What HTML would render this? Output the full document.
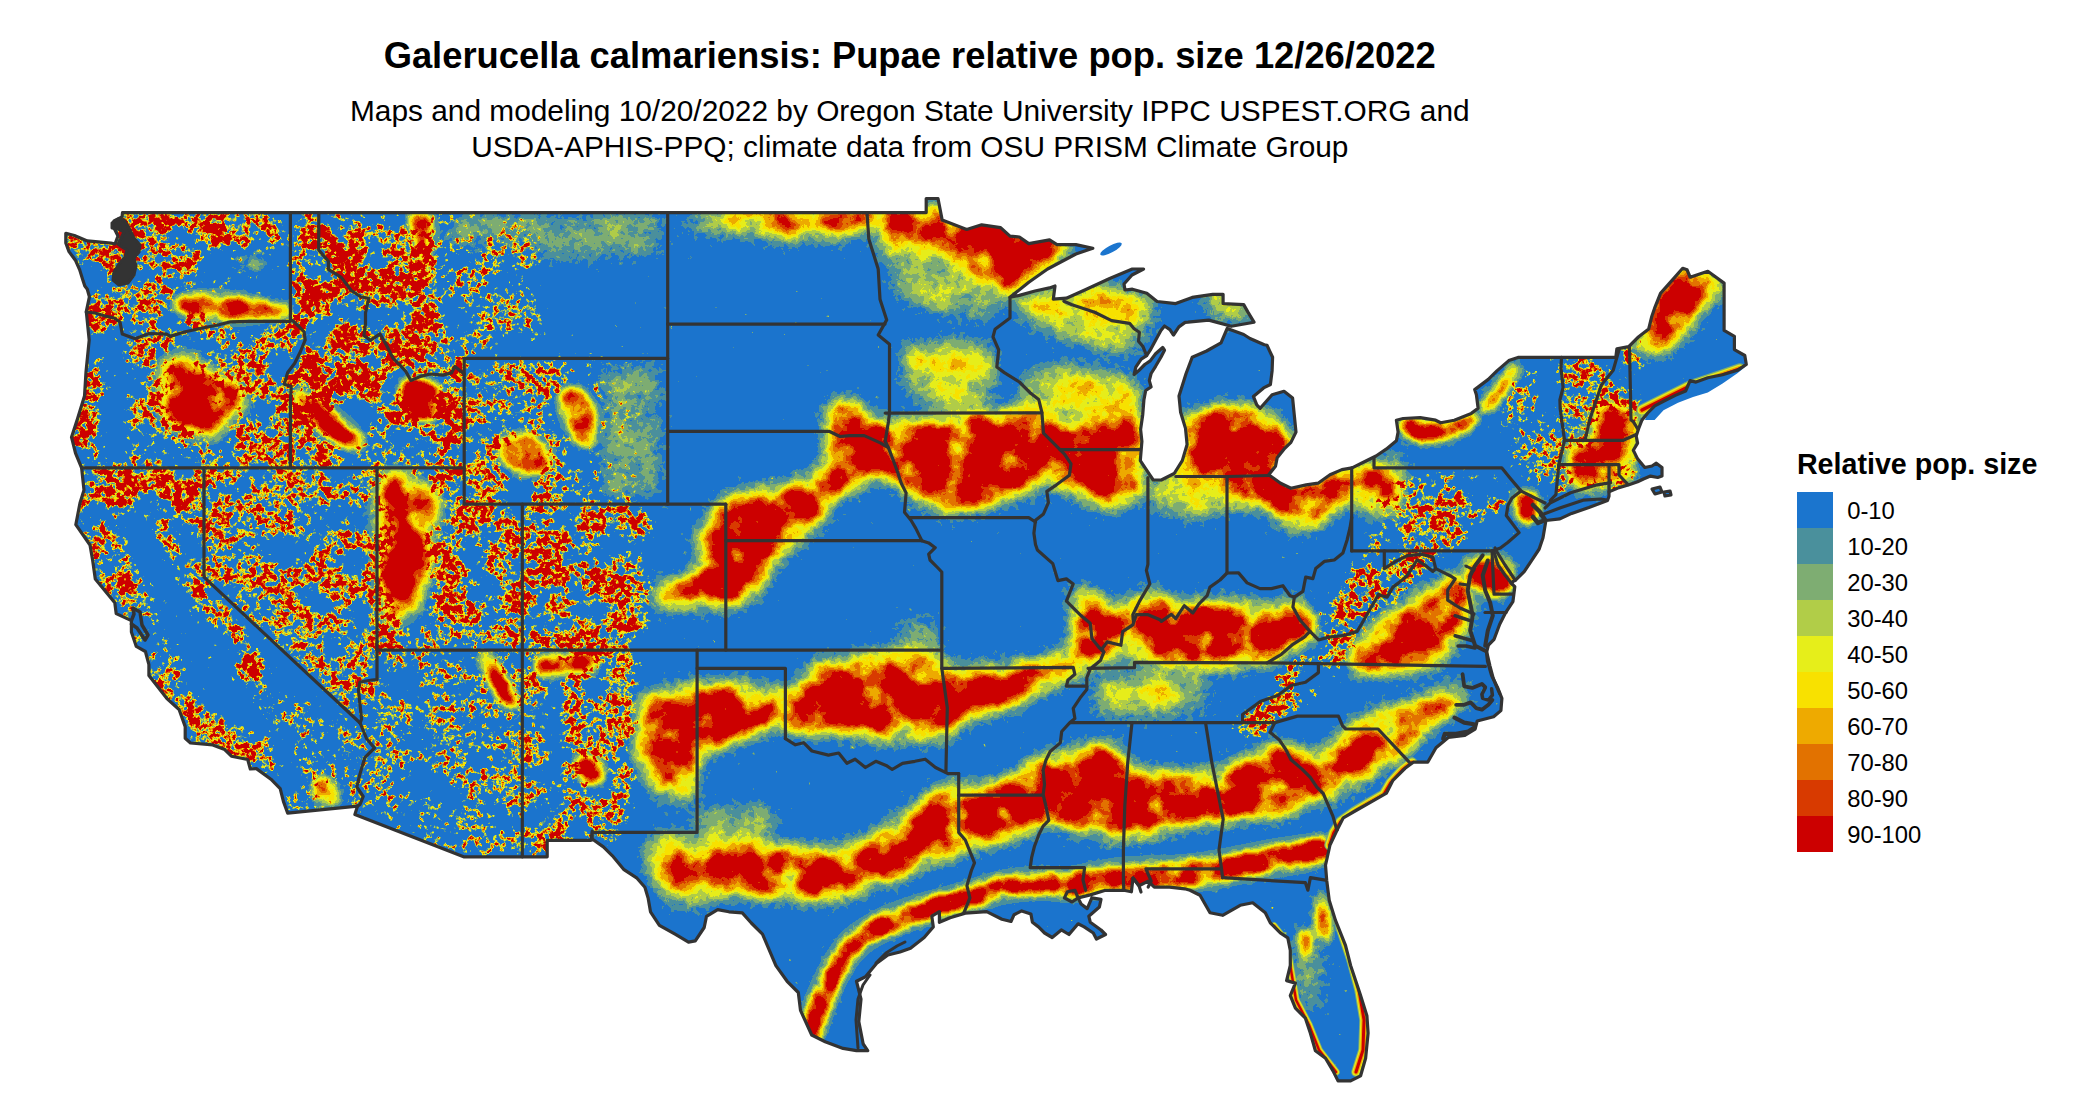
<!DOCTYPE html>
<html><head><meta charset="utf-8"><style>
html,body{margin:0;padding:0;background:#fff;}
body{width:2100px;height:1116px;overflow:hidden;position:relative;font-family:"Liberation Sans",sans-serif;}
svg{position:absolute;left:0;top:0;}
</style></head><body>
<svg width="2100" height="1116" viewBox="0 0 2100 1116">

<defs>
<clipPath id="land"><path d="M65.8,233.3 L74.4,235.5 L87.3,240.9 L98.0,241.9 L110.9,243.0 L115.0,244.0 L118.0,236.0 L113.0,226.0 L114.0,221.0 L122.0,217.0 L122.5,212.6 L926.2,212.6 L926.2,198.5 L938.0,198.5 L942.2,220.1 L966.7,229.5 L981.7,224.8 L1000.6,227.6 L1010.0,236.1 L1019.4,237.0 L1028.8,243.6 L1049.5,239.9 L1057.0,244.6 L1075.9,244.6 L1092.8,248.3 L1075.9,254.0 L1047.6,269.0 L1028.8,282.2 L1010.0,297.3 L1019.4,295.4 L1035.0,291.0 L1049.5,287.9 L1055.0,286.0 L1053.3,299.2 L1066.4,298.2 L1085.3,289.8 L1109.7,278.5 L1132.3,269.0 L1143.6,269.0 L1132.0,275.0 L1124.0,284.0 L1125.0,290.0 L1132.4,289.2 L1146.8,293.3 L1157.1,301.5 L1175.7,303.6 L1192.2,297.4 L1212.8,294.3 L1223.1,294.3 L1223.1,303.6 L1243.7,304.6 L1247.8,311.9 L1254.0,322.2 L1231.3,326.3 L1208.7,320.1 L1188.0,322.2 L1185.1,322.4 L1178.9,326.9 L1173.5,335.0 L1169.9,329.6 L1164.5,326.0 L1160.9,330.5 L1155.6,340.3 L1150.2,350.2 L1146.6,355.6 L1141.2,359.1 L1135.8,367.2 L1134.1,374.4 L1138.5,370.8 L1144.8,364.5 L1150.2,360.9 L1155.6,353.8 L1162.7,347.5 L1164.5,350.2 L1160.9,357.3 L1155.6,366.3 L1151.1,373.5 L1149.3,380.6 L1151.1,386.9 L1145.7,390.5 L1143.9,400.0 L1142.7,415.0 L1140.6,429.4 L1141.9,441.3 L1140.3,460.6 L1146.8,470.3 L1153.2,480.0 L1161.3,480.0 L1174.2,473.5 L1182.3,460.6 L1187.1,444.5 L1185.5,428.4 L1180.6,412.3 L1179.0,396.1 L1186.0,373.7 L1192.2,357.2 L1206.6,351.0 L1221.0,342.8 L1227.2,328.4 L1243.7,334.5 L1250.0,338.5 L1264.3,344.8 L1267.0,345.3 L1272.6,357.2 L1272.1,370.9 L1270.4,384.5 L1263.6,387.9 L1253.4,396.4 L1256.8,404.9 L1260.2,408.3 L1272.1,394.7 L1284.0,391.3 L1292.6,398.1 L1294.3,415.1 L1296.0,432.1 L1290.9,442.4 L1284.0,449.2 L1277.2,457.7 L1275.5,466.2 L1268.7,474.7 L1280.6,483.2 L1290.9,488.3 L1306.2,484.9 L1318.1,483.2 L1330.0,474.7 L1341.9,469.6 L1352.1,467.9 L1362.4,462.8 L1376.0,456.0 L1386.2,449.2 L1396.4,440.7 L1398.1,432.1 L1396.4,420.2 L1403.2,418.5 L1420.2,417.7 L1435.6,420.2 L1440.7,422.8 L1454.3,420.2 L1471.3,413.4 L1478.1,408.3 L1476.4,394.7 L1474.7,389.6 L1488.3,379.4 L1496.9,370.9 L1508.8,360.6 L1518.0,357.4 L1615.8,357.4 L1616.9,348.8 L1628.7,346.7 L1638.4,337.0 L1648.7,328.9 L1651.6,317.1 L1654.6,308.2 L1660.5,293.4 L1682.7,268.3 L1687.1,269.8 L1690.1,277.2 L1707.8,271.3 L1724.1,283.1 L1724.1,330.4 L1734.4,336.3 L1734.4,349.6 L1744.8,355.5 L1746.3,364.4 L1737.4,370.3 L1722.6,374.7 L1707.8,377.7 L1696.0,382.1 L1690.1,380.6 L1685.6,391.0 L1675.3,395.4 L1663.5,401.3 L1654.8,405.8 L1647.7,413.0 L1641.9,420.2 L1639.1,427.3 L1636.2,436.0 L1637.6,443.1 L1633.3,450.3 L1637.6,458.9 L1644.8,467.5 L1652.0,466.0 L1656.3,463.2 L1662.0,467.5 L1662.0,476.1 L1657.7,477.5 L1650.5,476.1 L1643.4,479.0 L1637.6,481.8 L1629.0,484.7 L1619.0,487.6 L1609.0,491.9 L1609.0,496.2 L1607.5,500.5 L1588.9,507.6 L1571.7,513.4 L1559.9,518.9 L1545.9,520.5 L1544.9,526.4 L1543.0,537.7 L1539.2,549.0 L1531.7,560.3 L1524.2,571.6 L1516.6,579.1 L1511.0,582.9 L1514.8,586.7 L1512.9,601.7 L1505.4,613.0 L1499.7,624.3 L1494.1,639.3 L1488.4,645.0 L1486.5,652.5 L1487.5,661.2 L1491.6,675.6 L1497.8,688.0 L1501.9,698.3 L1500.9,710.6 L1493.6,716.8 L1477.2,721.0 L1475.1,729.2 L1464.8,735.4 L1448.3,737.4 L1436.0,747.7 L1427.7,762.2 L1413.3,762.2 L1405.1,768.3 L1392.7,780.7 L1386.5,793.1 L1372.1,801.3 L1357.7,809.5 L1343.3,817.8 L1337.1,830.1 L1330.0,845.0 L1325.5,865.2 L1326.7,880.2 L1329.2,900.3 L1335.5,920.4 L1345.5,945.4 L1350.6,965.5 L1360.6,995.6 L1366.9,1015.7 L1368.1,1033.2 L1365.6,1058.3 L1360.6,1075.9 L1350.6,1080.9 L1338.0,1080.9 L1333.0,1070.9 L1325.5,1058.3 L1315.4,1050.8 L1310.4,1033.2 L1305.4,1018.2 L1295.4,1008.2 L1290.3,995.6 L1295.4,983.1 L1286.6,980.6 L1290.3,965.5 L1290.3,950.5 L1287.8,937.9 L1280.3,932.9 L1270.3,922.9 L1265.3,912.8 L1252.7,902.8 L1240.2,905.3 L1222.6,915.3 L1210.0,912.8 L1200.0,895.3 L1190.0,890.2 L1184.8,888.8 L1169.5,887.2 L1154.3,887.2 L1148.2,881.1 L1139.0,885.7 L1133.0,878.0 L1131.4,891.8 L1123.8,890.3 L1105.5,890.3 L1090.3,894.9 L1078.1,897.9 L1081.1,904.0 L1087.2,908.6 L1091.8,897.9 L1101.0,899.4 L1099.4,907.0 L1088.8,916.2 L1090.3,922.3 L1101.0,930.0 L1105.5,934.5 L1096.4,939.0 L1093.3,933.0 L1084.2,926.9 L1078.1,923.8 L1069.0,934.5 L1061.3,929.9 L1052.2,937.5 L1044.6,933.0 L1038.5,926.9 L1032.4,922.3 L1030.9,913.9 L1021.7,910.9 L1014.1,914.7 L1011.0,921.5 L1001.9,919.2 L986.7,911.6 L965.3,913.1 L950.1,917.7 L939.4,922.3 L939.4,911.6 L931.8,916.2 L933.3,926.9 L924.2,937.5 L910.5,948.2 L900.0,952.0 L887.9,955.0 L876.7,963.3 L865.5,976.8 L856.5,981.3 L861.0,999.2 L858.8,1021.6 L863.2,1044.0 L867.7,1050.7 L856.5,1050.7 L843.1,1048.4 L825.2,1041.7 L811.7,1035.0 L800.5,1010.4 L798.3,992.5 L787.1,981.3 L775.9,965.6 L769.2,949.9 L762.5,934.2 L751.3,923.0 L742.3,912.9 L728.9,911.8 L717.7,909.6 L706.5,916.3 L704.2,927.5 L695.3,940.9 L688.5,942.1 L675.1,934.2 L659.4,925.3 L650.5,911.8 L648.2,898.4 L644.9,887.2 L637.0,878.2 L623.6,869.3 L612.4,855.8 L603.4,846.9 L592.2,839.0 L592.2,831.2 L591.0,840.4 L547.2,840.4 L547.2,856.8 L463.6,856.8 L354.9,814.5 L357.5,806.1 L287.7,813.1 L283.4,801.4 L280.2,788.6 L270.9,779.2 L256.4,768.6 L250.3,769.0 L247.7,759.5 L231.4,756.2 L224.7,749.6 L212.8,744.9 L190.5,743.0 L185.2,738.3 L185.2,726.6 L179.1,709.5 L166.9,698.6 L148.9,675.6 L148.9,664.6 L145.4,651.5 L136.3,646.4 L131.4,631.9 L131.4,620.6 L116.2,613.6 L114.8,602.7 L95.3,579.0 L92.6,560.0 L90.0,545.0 L75.8,524.7 L80.0,503.0 L84.0,490.0 L81.6,467.8 L75.5,453.2 L71.5,437.2 L77.6,418.6 L84.5,396.0 L86.0,371.9 L89.2,340.2 L86.3,311.7 L89.4,296.8 L87.3,289.2 L84.8,286.0 L83.0,280.6 L79.7,269.9 L75.4,260.2 L69.0,251.6 L65.8,243.0Z"/></clipPath>
<filter id="F" x="0" y="0" width="2100" height="1116" filterUnits="userSpaceOnUse" color-interpolation-filters="sRGB">
<feColorMatrix in="SourceGraphic" type="matrix" values="1 0 0 0 0  1 0 0 0 0  1 0 0 0 0  0 0 0 0 1" result="rch"/>
<feColorMatrix in="SourceGraphic" type="matrix" values="0 1 0 0 0  0 1 0 0 0  0 1 0 0 0  0 0 0 0 1" result="gch"/>
<feColorMatrix in="SourceGraphic" type="matrix" values="0 0 1 0 0  0 0 1 0 0  0 0 1 0 0  0 0 0 0 1" result="bch"/>
<feMorphology in="rch" operator="erode" radius="4" result="er1"/>
<feGaussianBlur in="er1" stdDeviation="10" result="bl1"/>
<feMorphology in="bch" operator="erode" radius="2" result="er2"/>
<feGaussianBlur in="er2" stdDeviation="5.5" result="bl2"/>
<feBlend in="bl1" in2="bl2" mode="lighten" result="band"/>
<feGaussianBlur in="gch" stdDeviation="6" result="dens"/>
<feTurbulence type="fractalNoise" baseFrequency="0.16" numOctaves="3" seed="7" result="tb"/>
<feColorMatrix in="tb" type="matrix" values="1 0 0 0 0  1 0 0 0 0  1 0 0 0 0  0 0 0 0 1" result="tn"/>
<feTurbulence type="fractalNoise" baseFrequency="0.035" numOctaves="2" seed="3" result="tb2"/>
<feColorMatrix in="tb2" type="matrix" values="1 0 0 0 0  1 0 0 0 0  1 0 0 0 0  0 0 0 0 1" result="tn2"/>
<feTurbulence type="fractalNoise" baseFrequency="0.03" numOctaves="2" seed="11" result="tb3"/>
<feColorMatrix in="tb3" type="matrix" values="1 0 0 0 0  1 0 0 0 0  1 0 0 0 0  0 0 0 0 1" result="tn3"/>
<feTurbulence type="fractalNoise" baseFrequency="0.022" numOctaves="4" seed="5" result="tb4"/>
<feColorMatrix in="tb4" type="matrix" values="1 0 0 0 0  1 0 0 0 0  1 0 0 0 0  0 0 0 0 1" result="tn4"/>
<feComponentTransfer in="tn4" result="ct"><feFuncR type="table" tableValues="0 0.35 1 0.35 0 0.35 1 0.35 0 0.35 1 0.35 0 0.35 1 0.35 0 0.35 1 0.35 0 0.35 1 0.35 0 0.35 1 0.35 0 0.35 1 0.35 0 0.35 1 0.35 0 0.35 1 0.35 0 0.35 1 0.35 0 0.35 1 0.35 0 0.35 1 0.35 0 0.35 1 0.35 0 0.35 1 0.35 0 0.35 1 0.35 0 0.35 1 0.35 0 0.35 1 0.35 0 0.35 1 0.35 0 0.35 1 0.35 0 0.35 1 0.35 0 0.35 1 0.35 0 0.35"/><feFuncG type="table" tableValues="0 0.35 1 0.35 0 0.35 1 0.35 0 0.35 1 0.35 0 0.35 1 0.35 0 0.35 1 0.35 0 0.35 1 0.35 0 0.35 1 0.35 0 0.35 1 0.35 0 0.35 1 0.35 0 0.35 1 0.35 0 0.35 1 0.35 0 0.35 1 0.35 0 0.35 1 0.35 0 0.35 1 0.35 0 0.35 1 0.35 0 0.35 1 0.35 0 0.35 1 0.35 0 0.35 1 0.35 0 0.35 1 0.35 0 0.35 1 0.35 0 0.35 1 0.35 0 0.35 1 0.35 0 0.35"/><feFuncB type="table" tableValues="0 0.35 1 0.35 0 0.35 1 0.35 0 0.35 1 0.35 0 0.35 1 0.35 0 0.35 1 0.35 0 0.35 1 0.35 0 0.35 1 0.35 0 0.35 1 0.35 0 0.35 1 0.35 0 0.35 1 0.35 0 0.35 1 0.35 0 0.35 1 0.35 0 0.35 1 0.35 0 0.35 1 0.35 0 0.35 1 0.35 0 0.35 1 0.35 0 0.35 1 0.35 0 0.35 1 0.35 0 0.35 1 0.35 0 0.35 1 0.35 0 0.35 1 0.35 0 0.35 1 0.35 0 0.35"/></feComponentTransfer>
<feComponentTransfer in="tn3" result="m"><feFuncR type="linear" slope="2.6" intercept="-0.55"/><feFuncG type="linear" slope="2.6" intercept="-0.55"/><feFuncB type="linear" slope="2.6" intercept="-0.55"/></feComponentTransfer>
<feComposite in="m" in2="dens" operator="arithmetic" k1="1" k2="0" k3="0" k4="0" result="dm"/>
<feComposite in="ct" in2="dm" operator="arithmetic" k1="0.0" k2="0" k3="0" k4="0" result="cf"/>
<feComposite in="tn" in2="dm" operator="arithmetic" k1="0" k2="4.0" k3="2.45" k4="-3.25" result="nf"/>
<feComponentTransfer in="dm" result="base"><feFuncR type="linear" slope="0.1"/><feFuncG type="linear" slope="0.1"/><feFuncB type="linear" slope="0.1"/></feComponentTransfer>
<feComposite in="tn2" in2="band" operator="arithmetic" k1="1.8" k2="0" k3="0.2" k4="0" result="bandm"/>
<feComposite in="tn" in2="bandm" operator="arithmetic" k1="0" k2="0.3" k3="1" k4="-0.15" result="bandn"/>
<feBlend in="nf" in2="bandn" mode="lighten" result="f1"/>
<feBlend in="cf" in2="f1" mode="lighten" result="f2"/>
<feBlend in="base" in2="f2" mode="lighten" result="f3"/>
<feGaussianBlur in="band" stdDeviation="10" result="hb"/>
<feComponentTransfer in="hb" result="halo"><feFuncR type="linear" slope="0.42"/><feFuncG type="linear" slope="0.42"/><feFuncB type="linear" slope="0.42"/></feComponentTransfer>
<feBlend in="halo" in2="f3" mode="lighten" result="field"/>
<feComponentTransfer in="field">
<feFuncR type="discrete" tableValues="0.1059 0.2902 0.4941 0.6941 0.9020 0.9725 0.9333 0.8863 0.8471 0.8000"/>
<feFuncG type="discrete" tableValues="0.4588 0.5647 0.6784 0.8039 0.9333 0.8824 0.6667 0.4471 0.2275 0.0000"/>
<feFuncB type="discrete" tableValues="0.8078 0.6118 0.4471 0.2824 0.1020 0.0000 0.0000 0.0000 0.0000 0.0000"/>
<feFuncA type="table" tableValues="1 1"/>
</feComponentTransfer>
</filter>
</defs>
<path d="M65.8,233.3 L74.4,235.5 L87.3,240.9 L98.0,241.9 L110.9,243.0 L115.0,244.0 L118.0,236.0 L113.0,226.0 L114.0,221.0 L122.0,217.0 L122.5,212.6 L926.2,212.6 L926.2,198.5 L938.0,198.5 L942.2,220.1 L966.7,229.5 L981.7,224.8 L1000.6,227.6 L1010.0,236.1 L1019.4,237.0 L1028.8,243.6 L1049.5,239.9 L1057.0,244.6 L1075.9,244.6 L1092.8,248.3 L1075.9,254.0 L1047.6,269.0 L1028.8,282.2 L1010.0,297.3 L1019.4,295.4 L1035.0,291.0 L1049.5,287.9 L1055.0,286.0 L1053.3,299.2 L1066.4,298.2 L1085.3,289.8 L1109.7,278.5 L1132.3,269.0 L1143.6,269.0 L1132.0,275.0 L1124.0,284.0 L1125.0,290.0 L1132.4,289.2 L1146.8,293.3 L1157.1,301.5 L1175.7,303.6 L1192.2,297.4 L1212.8,294.3 L1223.1,294.3 L1223.1,303.6 L1243.7,304.6 L1247.8,311.9 L1254.0,322.2 L1231.3,326.3 L1208.7,320.1 L1188.0,322.2 L1185.1,322.4 L1178.9,326.9 L1173.5,335.0 L1169.9,329.6 L1164.5,326.0 L1160.9,330.5 L1155.6,340.3 L1150.2,350.2 L1146.6,355.6 L1141.2,359.1 L1135.8,367.2 L1134.1,374.4 L1138.5,370.8 L1144.8,364.5 L1150.2,360.9 L1155.6,353.8 L1162.7,347.5 L1164.5,350.2 L1160.9,357.3 L1155.6,366.3 L1151.1,373.5 L1149.3,380.6 L1151.1,386.9 L1145.7,390.5 L1143.9,400.0 L1142.7,415.0 L1140.6,429.4 L1141.9,441.3 L1140.3,460.6 L1146.8,470.3 L1153.2,480.0 L1161.3,480.0 L1174.2,473.5 L1182.3,460.6 L1187.1,444.5 L1185.5,428.4 L1180.6,412.3 L1179.0,396.1 L1186.0,373.7 L1192.2,357.2 L1206.6,351.0 L1221.0,342.8 L1227.2,328.4 L1243.7,334.5 L1250.0,338.5 L1264.3,344.8 L1267.0,345.3 L1272.6,357.2 L1272.1,370.9 L1270.4,384.5 L1263.6,387.9 L1253.4,396.4 L1256.8,404.9 L1260.2,408.3 L1272.1,394.7 L1284.0,391.3 L1292.6,398.1 L1294.3,415.1 L1296.0,432.1 L1290.9,442.4 L1284.0,449.2 L1277.2,457.7 L1275.5,466.2 L1268.7,474.7 L1280.6,483.2 L1290.9,488.3 L1306.2,484.9 L1318.1,483.2 L1330.0,474.7 L1341.9,469.6 L1352.1,467.9 L1362.4,462.8 L1376.0,456.0 L1386.2,449.2 L1396.4,440.7 L1398.1,432.1 L1396.4,420.2 L1403.2,418.5 L1420.2,417.7 L1435.6,420.2 L1440.7,422.8 L1454.3,420.2 L1471.3,413.4 L1478.1,408.3 L1476.4,394.7 L1474.7,389.6 L1488.3,379.4 L1496.9,370.9 L1508.8,360.6 L1518.0,357.4 L1615.8,357.4 L1616.9,348.8 L1628.7,346.7 L1638.4,337.0 L1648.7,328.9 L1651.6,317.1 L1654.6,308.2 L1660.5,293.4 L1682.7,268.3 L1687.1,269.8 L1690.1,277.2 L1707.8,271.3 L1724.1,283.1 L1724.1,330.4 L1734.4,336.3 L1734.4,349.6 L1744.8,355.5 L1746.3,364.4 L1737.4,370.3 L1722.6,374.7 L1707.8,377.7 L1696.0,382.1 L1690.1,380.6 L1685.6,391.0 L1675.3,395.4 L1663.5,401.3 L1654.8,405.8 L1647.7,413.0 L1641.9,420.2 L1639.1,427.3 L1636.2,436.0 L1637.6,443.1 L1633.3,450.3 L1637.6,458.9 L1644.8,467.5 L1652.0,466.0 L1656.3,463.2 L1662.0,467.5 L1662.0,476.1 L1657.7,477.5 L1650.5,476.1 L1643.4,479.0 L1637.6,481.8 L1629.0,484.7 L1619.0,487.6 L1609.0,491.9 L1609.0,496.2 L1607.5,500.5 L1588.9,507.6 L1571.7,513.4 L1559.9,518.9 L1545.9,520.5 L1544.9,526.4 L1543.0,537.7 L1539.2,549.0 L1531.7,560.3 L1524.2,571.6 L1516.6,579.1 L1511.0,582.9 L1514.8,586.7 L1512.9,601.7 L1505.4,613.0 L1499.7,624.3 L1494.1,639.3 L1488.4,645.0 L1486.5,652.5 L1487.5,661.2 L1491.6,675.6 L1497.8,688.0 L1501.9,698.3 L1500.9,710.6 L1493.6,716.8 L1477.2,721.0 L1475.1,729.2 L1464.8,735.4 L1448.3,737.4 L1436.0,747.7 L1427.7,762.2 L1413.3,762.2 L1405.1,768.3 L1392.7,780.7 L1386.5,793.1 L1372.1,801.3 L1357.7,809.5 L1343.3,817.8 L1337.1,830.1 L1330.0,845.0 L1325.5,865.2 L1326.7,880.2 L1329.2,900.3 L1335.5,920.4 L1345.5,945.4 L1350.6,965.5 L1360.6,995.6 L1366.9,1015.7 L1368.1,1033.2 L1365.6,1058.3 L1360.6,1075.9 L1350.6,1080.9 L1338.0,1080.9 L1333.0,1070.9 L1325.5,1058.3 L1315.4,1050.8 L1310.4,1033.2 L1305.4,1018.2 L1295.4,1008.2 L1290.3,995.6 L1295.4,983.1 L1286.6,980.6 L1290.3,965.5 L1290.3,950.5 L1287.8,937.9 L1280.3,932.9 L1270.3,922.9 L1265.3,912.8 L1252.7,902.8 L1240.2,905.3 L1222.6,915.3 L1210.0,912.8 L1200.0,895.3 L1190.0,890.2 L1184.8,888.8 L1169.5,887.2 L1154.3,887.2 L1148.2,881.1 L1139.0,885.7 L1133.0,878.0 L1131.4,891.8 L1123.8,890.3 L1105.5,890.3 L1090.3,894.9 L1078.1,897.9 L1081.1,904.0 L1087.2,908.6 L1091.8,897.9 L1101.0,899.4 L1099.4,907.0 L1088.8,916.2 L1090.3,922.3 L1101.0,930.0 L1105.5,934.5 L1096.4,939.0 L1093.3,933.0 L1084.2,926.9 L1078.1,923.8 L1069.0,934.5 L1061.3,929.9 L1052.2,937.5 L1044.6,933.0 L1038.5,926.9 L1032.4,922.3 L1030.9,913.9 L1021.7,910.9 L1014.1,914.7 L1011.0,921.5 L1001.9,919.2 L986.7,911.6 L965.3,913.1 L950.1,917.7 L939.4,922.3 L939.4,911.6 L931.8,916.2 L933.3,926.9 L924.2,937.5 L910.5,948.2 L900.0,952.0 L887.9,955.0 L876.7,963.3 L865.5,976.8 L856.5,981.3 L861.0,999.2 L858.8,1021.6 L863.2,1044.0 L867.7,1050.7 L856.5,1050.7 L843.1,1048.4 L825.2,1041.7 L811.7,1035.0 L800.5,1010.4 L798.3,992.5 L787.1,981.3 L775.9,965.6 L769.2,949.9 L762.5,934.2 L751.3,923.0 L742.3,912.9 L728.9,911.8 L717.7,909.6 L706.5,916.3 L704.2,927.5 L695.3,940.9 L688.5,942.1 L675.1,934.2 L659.4,925.3 L650.5,911.8 L648.2,898.4 L644.9,887.2 L637.0,878.2 L623.6,869.3 L612.4,855.8 L603.4,846.9 L592.2,839.0 L592.2,831.2 L591.0,840.4 L547.2,840.4 L547.2,856.8 L463.6,856.8 L354.9,814.5 L357.5,806.1 L287.7,813.1 L283.4,801.4 L280.2,788.6 L270.9,779.2 L256.4,768.6 L250.3,769.0 L247.7,759.5 L231.4,756.2 L224.7,749.6 L212.8,744.9 L190.5,743.0 L185.2,738.3 L185.2,726.6 L179.1,709.5 L166.9,698.6 L148.9,675.6 L148.9,664.6 L145.4,651.5 L136.3,646.4 L131.4,631.9 L131.4,620.6 L116.2,613.6 L114.8,602.7 L95.3,579.0 L92.6,560.0 L90.0,545.0 L75.8,524.7 L80.0,503.0 L84.0,490.0 L81.6,467.8 L75.5,453.2 L71.5,437.2 L77.6,418.6 L84.5,396.0 L86.0,371.9 L89.2,340.2 L86.3,311.7 L89.4,296.8 L87.3,289.2 L84.8,286.0 L83.0,280.6 L79.7,269.9 L75.4,260.2 L69.0,251.6 L65.8,243.0Z" fill="#1B75CE"/>
<g clip-path="url(#land)"><g filter="url(#F)" style="isolation:isolate">
<rect x="0" y="0" width="2100" height="1116" fill="#000"/>
<g><path d="M645.9,586.0 L669.6,583.0 L693.2,574.1 L699.2,559.3 L696.2,535.7 L708.0,512.0 L725.8,494.2 L758.3,491.3 L782.0,485.4 L805.6,476.5 L823.4,467.6 L829.3,446.9 L823.4,423.2 L832.3,399.6 L847.1,393.7 L864.8,405.5 L876.6,420.3 L891.4,414.4 L906.2,420.3 L935.8,417.3 L965.4,414.4 L1000.0,411.4 L1010.0,411.0 L1010.0,500.0 L1000.0,502.0 L965.4,512.0 L935.8,512.0 L915.1,500.2 L900.3,488.3 L891.4,476.5 L876.6,482.4 L858.9,485.4 L841.1,494.2 L829.3,512.0 L817.5,529.7 L799.7,541.6 L779.0,559.3 L764.2,583.0 L752.4,600.7 L728.7,606.6 L699.2,606.6 L669.6,606.6 L648.9,603.7Z" fill="rgb(255,0,0)"/><path d="M1005.0,411.0 L1030.0,405.0 L1060.0,400.0 L1090.0,405.0 L1120.0,410.0 L1145.0,415.0 L1145.0,490.0 L1129.0,505.8 L1112.9,509.0 L1096.8,509.0 L1080.6,501.0 L1064.5,489.7 L1048.4,484.8 L1032.3,492.9 L1016.1,498.0 L1005.0,500.0Z" fill="rgb(235,0,0)"/><path d="M1020.0,373.0 L1060.0,362.0 L1100.0,368.0 L1143.0,378.0 L1143.0,420.0 L1020.0,420.0Z" fill="rgb(115,0,0)"/><path d="M1180.0,417.0 L1208.0,409.0 L1237.0,403.0 L1266.0,409.0 L1283.0,423.0 L1296.0,440.0 L1290.0,470.0 L1268.0,476.0 L1226.0,476.0 L1180.0,476.0 L1175.0,450.0Z" fill="rgb(242,0,0)"/><path d="M1148.0,476.0 L1226.0,476.0 L1226.0,519.0 L1190.0,520.0 L1148.0,505.0Z" fill="rgb(128,0,0)"/><path d="M1226.0,473.0 L1271.0,468.0 L1300.0,480.0 L1330.0,470.0 L1352.0,468.0 L1352.0,500.0 L1329.0,517.6 L1312.0,528.0 L1285.0,529.0 L1271.0,510.0 L1250.0,505.0 L1226.0,505.0Z" fill="rgb(255,0,0)"/><path d="M1352.0,468.0 L1380.0,458.0 L1400.0,450.0 L1403.0,490.0 L1400.7,511.8 L1392.0,523.0 L1375.0,515.0 L1352.0,500.0Z" fill="rgb(230,0,0)"/><path d="M697.3,683.0 L726.0,683.0 L754.6,685.9 L789.0,691.6 L812.0,665.8 L840.6,657.2 L869.3,654.3 L898.0,651.5 L926.6,651.5 L943.8,657.2 L960.0,669.7 L990.5,666.6 L1020.9,663.6 L1051.4,657.5 L1066.6,648.3 L1075.7,630.0 L1069.7,596.6 L1075.7,581.3 L1087.9,587.4 L1106.2,605.7 L1124.5,602.6 L1142.7,596.6 L1158.0,590.5 L1179.3,602.6 L1203.7,599.6 L1234.1,602.6 L1264.6,605.7 L1295.0,599.6 L1310.3,608.7 L1320.0,620.0 L1320.0,639.2 L1295.0,651.4 L1264.6,663.6 L1234.1,668.0 L1200.0,668.0 L1173.2,665.0 L1158.0,663.6 L1142.7,657.5 L1118.4,654.4 L1100.1,660.5 L1081.8,672.7 L1051.4,687.9 L1020.9,703.2 L990.5,715.3 L960.0,721.4 L943.8,743.2 L912.3,737.4 L883.6,743.2 L855.0,734.6 L826.3,731.7 L797.6,731.7 L777.6,726.0 L754.6,734.6 L734.6,746.0 L714.5,752.0 L697.3,756.0Z" fill="rgb(255,0,0)"/><path d="M636.0,700.0 L660.0,690.0 L697.0,683.0 L697.0,790.0 L685.0,805.0 L660.0,800.0 L645.0,780.0 L636.0,760.0Z" fill="rgb(199,0,0)"/><path d="M644.0,700.6 L651.0,745.6 L651.1,746.0 L651.3,746.4 L651.4,746.8 L651.6,747.1 L651.9,747.5 L652.1,747.8 L652.4,748.1 L652.8,748.3 L677.8,765.3 L678.1,765.5 L678.4,765.7 L678.8,765.8 L679.2,765.9 L679.6,766.0 L680.0,766.0 L680.4,766.0 L680.8,765.9 L681.2,765.8 L681.5,765.7 L698.5,758.7 L698.9,758.5 L699.2,758.3 L699.5,758.1 L699.8,757.8 L700.1,757.5 L700.3,757.2 L700.5,756.9 L700.7,756.5 L700.8,756.2 L700.9,755.8 L701.0,755.4 L701.0,755.0 L701.0,688.0 L701.0,687.6 L700.9,687.2 L700.8,686.8 L700.7,686.4 L700.5,686.1 L700.3,685.7 L700.1,685.4 L699.8,685.1 L699.5,684.9 L699.2,684.6 L698.8,684.4 L698.5,684.3 L698.1,684.2 L697.7,684.1 L697.3,684.0 L696.9,684.0 L696.5,684.0 L696.1,684.1 L674.1,689.1 L674.0,689.1 L647.0,696.1 L646.6,696.2 L646.3,696.4 L645.9,696.6 L645.6,696.8 L645.3,697.1 L645.0,697.3 L644.8,697.6 L644.6,698.0 L644.4,698.3 L644.2,698.7 L644.1,699.1 L644.0,699.4 L644.0,699.8 L644.0,700.2 L644.0,700.6Z" fill="rgb(255,0,0)"/><path d="M1095.0,672.0 L1200.0,672.0 L1215.0,700.0 L1190.0,716.0 L1095.0,716.0Z" fill="rgb(107,0,0)"/><path d="M660.0,866.0 L672.0,842.0 L714.3,836.0 L759.0,842.0 L803.8,850.0 L848.6,848.0 L893.3,821.4 L929.1,794.6 L955.3,780.0 L975.0,788.0 L990.5,785.4 L1020.9,770.2 L1039.2,755.0 L1060.5,751.9 L1091.0,745.8 L1118.4,742.8 L1130.6,770.2 L1158.0,770.2 L1188.4,773.2 L1218.9,770.2 L1234.1,761.0 L1258.5,748.8 L1279.8,742.8 L1301.1,748.8 L1320.6,754.0 L1341.2,735.4 L1357.7,718.9 L1372.1,712.7 L1388.6,708.6 L1407.1,702.4 L1423.6,696.2 L1444.2,688.0 L1454.5,683.9 L1460.7,673.6 L1466.0,690.0 L1460.7,702.4 L1448.3,716.8 L1433.9,723.0 L1419.5,739.5 L1403.0,756.0 L1386.5,768.3 L1372.1,776.6 L1351.5,784.8 L1330.9,795.1 L1316.5,801.3 L1295.0,812.8 L1264.6,815.9 L1234.1,818.9 L1218.9,828.0 L1188.4,822.0 L1158.0,834.1 L1130.6,840.2 L1112.3,840.2 L1081.8,834.1 L1060.5,822.0 L1036.1,831.1 L1005.7,840.2 L975.2,846.3 L960.5,852.8 L915.7,870.7 L871.0,888.6 L826.2,902.0 L781.4,897.5 L736.7,893.0 L691.9,902.0 L669.5,888.6Z" fill="rgb(255,0,0)"/><path d="M1315.7,795.5 L1327.7,800.5 L1328.2,800.7 L1328.8,800.9 L1329.4,801.0 L1330.0,801.0 L1330.5,801.0 L1331.1,800.9 L1331.7,800.8 L1332.2,800.6 L1332.8,800.3 L1333.3,800.0 L1333.7,799.7 L1358.4,779.9 L1383.1,765.1 L1383.6,764.8 L1403.6,749.8 L1403.9,749.6 L1423.6,732.8 L1448.2,717.1 L1448.8,716.6 L1465.8,702.6 L1466.2,702.2 L1466.6,701.8 L1467.0,701.3 L1467.3,700.8 L1467.5,700.3 L1467.7,699.8 L1467.9,699.2 L1468.0,698.6 L1468.0,698.0 L1468.0,697.5 L1467.9,696.9 L1467.8,696.3 L1467.6,695.8 L1463.6,685.8 L1463.3,685.2 L1463.0,684.7 L1462.7,684.2 L1462.3,683.8 L1461.8,683.4 L1461.4,683.0 L1460.9,682.7 L1460.3,682.5 L1459.8,682.3 L1459.2,682.1 L1458.6,682.0 L1458.0,682.0 L1457.4,682.0 L1456.9,682.1 L1456.3,682.3 L1455.7,682.5 L1455.2,682.7 L1454.7,683.0 L1437.2,694.7 L1407.8,706.4 L1407.6,706.5 L1377.6,719.5 L1377.1,719.7 L1376.7,720.0 L1376.3,720.3 L1351.3,740.3 L1350.8,740.8 L1350.3,741.3 L1330.4,766.2 L1313.4,786.1 L1313.1,786.6 L1312.8,787.1 L1312.5,787.6 L1312.3,788.2 L1312.1,788.8 L1312.0,789.3 L1312.0,789.9 L1312.0,790.5 L1312.1,791.1 L1312.2,791.7 L1312.4,792.2 L1312.7,792.8 L1313.0,793.3 L1313.3,793.8 L1313.7,794.2 L1314.2,794.6 L1314.6,795.0 L1315.2,795.3 L1315.7,795.5Z" fill="rgb(255,0,0)"/><path d="M1290.0,925.0 L1322.0,925.0 L1326.0,1010.0 L1302.0,1012.0Z" fill="rgb(82,0,0)"/><path d="M680.0,812.0 L760.0,805.0 L800.0,826.0 L760.0,834.0 L700.0,834.0Z" fill="rgb(115,0,0)"/><path d="M647.0,835.0 L690.0,835.0 L714.0,880.0 L700.0,908.0 L670.0,905.0 L650.0,880.0Z" fill="rgb(178,0,0)"/><path d="M872.0,228.0 L1011.0,228.0 L1011.0,300.0 L990.0,318.0 L950.0,318.0 L900.0,300.0 L880.0,262.0Z" fill="rgb(84,0,0)"/><path d="M868.0,205.0 L1010.8,205.0 L1079.4,249.4 L1050.0,268.0 L1010.8,295.1 L980.0,278.0 L955.0,250.0 L930.0,240.0 L900.0,236.0 L875.0,232.0Z" fill="rgb(255,0,0)"/><path d="M700.0,205.0 L885.0,205.0 L880.0,226.0 L860.0,236.0 L830.0,240.0 L800.0,236.0 L770.0,238.0 L745.0,230.0 L720.0,230.0Z" fill="rgb(230,0,0)"/><path d="M686.0,212.0 L725.0,212.0 L725.0,240.0 L686.0,240.0Z" fill="rgb(89,0,0)"/><path d="M900.0,345.0 L930.0,338.0 L960.0,342.0 L985.0,340.0 L1000.0,360.0 L995.0,395.0 L975.0,410.0 L950.0,412.0 L925.0,405.0 L905.0,388.0Z" fill="rgb(117,0,0)"/><path d="M1011.0,292.0 L1060.0,286.0 L1100.0,280.0 L1130.0,288.0 L1157.0,300.0 L1150.0,330.0 L1140.0,350.0 L1110.0,352.0 L1080.0,345.0 L1050.0,335.0 L1020.0,320.0Z" fill="rgb(128,0,0)"/><path d="M1200.0,290.0 L1230.0,290.0 L1252.0,303.0 L1255.0,322.0 L1230.0,322.0 L1205.0,312.0Z" fill="rgb(158,0,0)"/><path d="M1468.9,576.6 L1468.7,575.9 L1468.4,575.3 L1468.1,574.6 L1467.8,574.0 L1467.3,573.5 L1466.9,573.0 L1466.3,572.5 L1465.7,572.1 L1465.1,571.7 L1464.5,571.5 L1463.8,571.2 L1463.1,571.1 L1462.4,571.0 L1461.7,571.0 L1461.0,571.1 L1460.3,571.2 L1459.7,571.4 L1459.0,571.7 L1429.2,585.8 L1428.6,586.1 L1428.0,586.5 L1405.3,603.5 L1382.7,617.7 L1381.9,618.2 L1364.7,632.6 L1364.2,633.1 L1363.7,633.6 L1352.2,647.9 L1351.8,648.5 L1351.5,649.1 L1351.2,649.7 L1345.5,664.0 L1345.3,664.7 L1345.1,665.3 L1345.0,666.0 L1345.0,666.7 L1345.0,667.4 L1345.1,668.0 L1345.3,668.7 L1345.6,669.3 L1345.9,669.9 L1346.2,670.5 L1346.6,671.1 L1347.1,671.6 L1347.6,672.0 L1348.1,672.4 L1348.7,672.8 L1349.3,673.1 L1350.0,673.3 L1350.6,673.5 L1351.3,673.6 L1352.0,673.6 L1380.6,673.6 L1381.3,673.6 L1410.0,670.8 L1410.7,670.7 L1411.3,670.5 L1440.0,661.9 L1440.7,661.7 L1441.3,661.4 L1441.9,661.0 L1442.4,660.6 L1442.9,660.1 L1460.1,642.9 L1460.6,642.4 L1461.0,641.8 L1461.4,641.2 L1461.7,640.6 L1473.1,611.9 L1473.3,611.2 L1473.5,610.5 L1473.6,609.8 L1473.6,609.1 L1473.5,608.4 L1470.6,585.5 L1470.6,585.0 L1468.9,576.6Z" fill="rgb(255,0,0)"/><path d="M1635.1,351.7 L1653.1,356.7 L1653.8,356.9 L1654.5,357.0 L1655.2,357.0 L1655.9,356.9 L1656.6,356.8 L1657.3,356.6 L1658.0,356.3 L1658.6,356.0 L1659.2,355.6 L1679.2,340.6 L1679.9,339.9 L1694.9,324.9 L1695.4,324.5 L1695.8,324.0 L1696.1,323.4 L1705.6,306.3 L1722.8,290.1 L1723.3,289.6 L1723.7,289.0 L1724.1,288.4 L1724.4,287.8 L1724.7,287.1 L1724.8,286.4 L1725.0,285.8 L1725.0,285.0 L1725.0,284.3 L1724.9,283.6 L1724.7,283.0 L1724.5,282.3 L1724.1,281.7 L1723.8,281.1 L1723.4,280.5 L1707.4,261.5 L1706.9,261.0 L1706.4,260.6 L1705.8,260.2 L1705.3,259.8 L1704.7,259.5 L1704.0,259.3 L1703.4,259.1 L1683.4,255.1 L1682.7,255.0 L1682.0,255.0 L1681.4,255.0 L1680.7,255.1 L1680.1,255.3 L1679.4,255.5 L1678.8,255.8 L1678.2,256.1 L1677.7,256.5 L1677.2,256.9 L1676.7,257.4 L1676.3,257.9 L1654.3,288.9 L1654.0,289.5 L1644.0,306.5 L1643.7,307.0 L1643.4,307.6 L1630.4,342.6 L1630.2,343.2 L1630.1,343.9 L1630.0,344.6 L1630.0,345.2 L1630.1,345.9 L1630.2,346.6 L1630.4,347.2 L1630.6,347.9 L1630.9,348.5 L1631.3,349.1 L1631.7,349.6 L1632.2,350.1 L1632.7,350.5 L1633.3,350.9 L1633.9,351.3 L1634.5,351.5 L1635.1,351.7Z" fill="rgb(255,0,0)"/><path d="M1564.0,446.0 L1564.0,483.0 L1564.0,483.4 L1564.1,483.8 L1564.2,484.2 L1564.3,484.5 L1564.5,484.9 L1564.7,485.2 L1564.9,485.5 L1565.2,485.8 L1565.5,486.1 L1565.8,486.3 L1566.1,486.5 L1566.5,486.7 L1566.8,486.8 L1567.2,486.9 L1567.6,487.0 L1568.0,487.0 L1628.0,487.0 L1628.4,487.0 L1628.8,486.9 L1629.2,486.8 L1629.5,486.7 L1629.9,486.5 L1630.2,486.3 L1630.5,486.1 L1630.8,485.8 L1631.1,485.5 L1631.3,485.2 L1631.5,484.9 L1631.7,484.5 L1631.8,484.2 L1631.9,483.8 L1632.0,483.4 L1632.0,483.0 L1632.0,446.0 L1632.0,445.6 L1631.9,445.2 L1631.8,444.8 L1631.7,444.5 L1631.5,444.1 L1631.3,443.8 L1631.1,443.5 L1630.8,443.2 L1630.5,442.9 L1630.2,442.7 L1629.9,442.5 L1629.5,442.3 L1629.2,442.2 L1628.8,442.1 L1628.4,442.0 L1628.0,442.0 L1568.0,442.0 L1567.6,442.0 L1567.2,442.1 L1566.8,442.2 L1566.5,442.3 L1566.1,442.5 L1565.8,442.7 L1565.5,442.9 L1565.2,443.2 L1564.9,443.5 L1564.7,443.8 L1564.5,444.1 L1564.3,444.5 L1564.2,444.8 L1564.1,445.2 L1564.0,445.6 L1564.0,446.0Z" fill="rgb(255,0,0)"/><path d="M1587.0,405.0 L1587.0,440.0 L1587.0,440.3 L1587.1,440.6 L1587.1,440.9 L1587.2,441.1 L1587.4,441.4 L1587.5,441.7 L1587.7,441.9 L1587.9,442.1 L1588.1,442.3 L1588.3,442.5 L1588.6,442.6 L1588.9,442.8 L1589.1,442.9 L1589.4,442.9 L1589.7,443.0 L1590.0,443.0 L1640.0,443.0 L1640.3,443.0 L1640.6,442.9 L1640.9,442.9 L1641.2,442.8 L1641.4,442.6 L1641.7,442.5 L1641.9,442.3 L1642.2,442.1 L1642.4,441.8 L1642.5,441.6 L1642.7,441.3 L1642.8,441.1 L1642.9,440.8 L1643.0,440.5 L1643.0,440.2 L1643.0,439.9 L1643.0,439.6 L1638.0,404.6 L1637.9,404.3 L1637.8,404.0 L1637.7,403.8 L1637.6,403.5 L1637.4,403.3 L1637.3,403.0 L1637.1,402.8 L1636.9,402.6 L1636.6,402.5 L1636.4,402.3 L1636.1,402.2 L1635.8,402.1 L1635.6,402.1 L1635.3,402.0 L1635.0,402.0 L1590.0,402.0 L1589.7,402.0 L1589.4,402.1 L1589.1,402.1 L1588.9,402.2 L1588.6,402.4 L1588.3,402.5 L1588.1,402.7 L1587.9,402.9 L1587.7,403.1 L1587.5,403.3 L1587.4,403.6 L1587.2,403.9 L1587.1,404.1 L1587.1,404.4 L1587.0,404.7 L1587.0,405.0Z" fill="rgb(230,0,0)"/><path d="M373.0,478.5 L375.0,500.5 L375.0,500.5 L378.0,530.0 L375.0,559.5 L375.0,559.9 L375.0,560.2 L377.0,600.2 L377.1,600.7 L377.1,601.2 L383.1,626.2 L383.3,626.6 L383.5,627.1 L383.7,627.5 L383.9,627.9 L384.2,628.3 L384.6,628.6 L384.9,628.9 L385.3,629.2 L385.7,629.5 L386.2,629.7 L386.6,629.8 L387.1,629.9 L387.6,630.0 L388.1,630.0 L388.5,630.0 L389.0,629.9 L389.5,629.8 L389.9,629.6 L401.9,624.6 L402.4,624.4 L402.9,624.1 L403.3,623.8 L403.7,623.4 L404.0,623.0 L419.0,603.0 L419.3,602.6 L419.5,602.2 L429.5,582.2 L429.7,581.7 L429.9,581.2 L434.9,561.2 L434.9,560.7 L435.0,560.2 L435.0,559.8 L434.9,559.3 L434.9,558.8 L430.2,540.2 L436.7,521.7 L436.9,521.2 L436.9,520.7 L439.9,500.7 L440.0,500.2 L440.0,499.7 L439.9,499.2 L439.8,498.7 L439.7,498.2 L439.5,497.8 L439.2,497.3 L438.9,496.9 L423.9,477.9 L423.6,477.5 L423.3,477.2 L422.9,476.9 L422.5,476.7 L422.1,476.5 L421.7,476.3 L421.2,476.1 L401.2,471.1 L400.7,471.0 L400.1,471.0 L399.5,471.0 L377.5,473.0 L377.1,473.1 L376.6,473.2 L376.1,473.4 L375.7,473.6 L375.3,473.8 L374.9,474.1 L374.5,474.4 L374.2,474.8 L373.9,475.2 L373.6,475.6 L373.4,476.1 L373.2,476.5 L373.1,477.0 L373.0,477.5 L373.0,478.0 L373.0,478.5Z" fill="rgb(255,0,0)"/><path d="M232.0,254.0 L276.0,254.0 L276.0,272.0 L232.0,272.0Z" fill="rgb(64,0,0)"/><path d="M154.0,365.7 L159.0,410.7 L159.1,411.3 L159.3,411.9 L159.5,412.5 L159.8,413.1 L160.2,413.6 L175.2,433.6 L175.6,434.1 L176.0,434.5 L176.5,434.9 L177.0,435.2 L177.6,435.5 L178.2,435.7 L203.2,443.7 L203.7,443.9 L204.3,444.0 L204.8,444.0 L205.4,444.0 L206.0,443.9 L206.5,443.8 L207.1,443.6 L207.6,443.4 L208.1,443.1 L208.6,442.8 L209.0,442.5 L229.0,424.5 L229.2,424.2 L249.2,404.2 L249.6,403.8 L250.0,403.3 L250.3,402.8 L250.5,402.3 L250.7,401.7 L250.9,401.2 L251.0,400.6 L251.0,400.0 L251.0,399.4 L250.9,398.8 L250.7,398.3 L250.5,397.7 L250.3,397.2 L250.0,396.7 L240.0,381.7 L239.7,381.2 L239.3,380.8 L238.9,380.4 L238.5,380.1 L238.0,379.8 L237.5,379.5 L237.0,379.3 L236.5,379.2 L217.7,374.5 L193.7,355.3 L193.3,355.0 L192.8,354.7 L192.3,354.5 L191.8,354.3 L191.2,354.1 L190.7,354.0 L190.1,354.0 L189.6,354.0 L189.0,354.1 L159.0,359.1 L158.4,359.2 L157.8,359.4 L157.3,359.6 L156.8,359.9 L156.3,360.3 L155.8,360.7 L155.4,361.1 L155.0,361.6 L154.7,362.1 L154.5,362.7 L154.3,363.3 L154.1,363.9 L154.0,364.5 L154.0,365.1 L154.0,365.7Z" fill="rgb(255,0,0)"/><path d="M430.0,212.0 L665.0,212.0 L665.0,255.0 L600.0,262.0 L520.0,258.0 L440.0,250.0Z" fill="rgb(56,0,0)"/><path d="M598.0,362.0 L665.0,362.0 L665.0,500.0 L598.0,500.0Z" fill="rgb(51,0,0)"/><path d="M900.0,615.0 L940.0,615.0 L940.0,650.0 L900.0,650.0Z" fill="rgb(64,0,0)"/></g>
<g style="mix-blend-mode:lighten"><path d="M122.0,210.0 L292.0,210.0 L292.0,268.0 L250.0,248.0 L220.0,250.0 L180.0,282.0 L150.0,280.0 L120.0,270.0 L110.0,250.0Z" fill="rgb(0,255,0)"/><path d="M60.0,228.0 L122.0,228.0 L130.0,280.0 L125.0,330.0 L90.0,330.0 L60.0,300.0Z" fill="rgb(0,217,0)"/><path d="M210.0,250.0 L292.0,250.0 L292.0,298.0 L210.0,298.0Z" fill="rgb(0,76,0)"/><path d="M130.0,280.0 L210.0,280.0 L210.0,335.0 L130.0,340.0Z" fill="rgb(0,204,0)"/><path d="M60.0,310.0 L105.0,320.0 L100.0,470.0 L60.0,470.0Z" fill="rgb(0,230,0)"/><path d="M103.0,339.0 L128.0,339.0 L128.0,413.0 L103.0,413.0Z" fill="rgb(0,51,0)"/><path d="M128.0,335.0 L292.0,320.0 L292.0,470.0 L128.0,470.0Z" fill="rgb(0,204,0)"/><path d="M290.0,210.0 L320.0,210.0 L370.0,290.0 L410.0,375.0 L465.0,370.0 L465.0,470.0 L290.0,470.0Z" fill="rgb(0,255,0)"/><path d="M340.0,410.0 L400.0,425.0 L440.0,440.0 L440.0,468.0 L330.0,468.0Z" fill="rgb(0,115,0)"/><path d="M318.0,210.0 L440.0,210.0 L450.0,300.0 L470.0,370.0 L410.0,375.0 L370.0,290.0Z" fill="rgb(0,242,0)"/><path d="M440.0,210.0 L540.0,210.0 L540.0,358.0 L470.0,358.0 L450.0,300.0Z" fill="rgb(0,158,0)"/><path d="M464.0,358.0 L560.0,358.0 L560.0,505.0 L464.0,505.0Z" fill="rgb(0,191,0)"/><path d="M560.0,358.0 L640.0,358.0 L640.0,505.0 L560.0,505.0Z" fill="rgb(0,115,0)"/><path d="M60.0,465.0 L205.0,465.0 L205.0,560.0 L150.0,540.0 L130.0,520.0 L95.0,560.0 L60.0,560.0Z" fill="rgb(0,242,0)"/><path d="M90.0,540.0 L130.0,520.0 L240.0,700.0 L250.0,760.0 L200.0,760.0 L150.0,700.0 L100.0,600.0Z" fill="rgb(0,230,0)"/><path d="M128.0,515.0 L150.0,520.0 L180.0,560.0 L210.0,610.0 L240.0,660.0 L250.0,700.0 L240.0,725.0 L215.0,720.0 L185.0,680.0 L160.0,630.0 L140.0,580.0 L125.0,540.0Z" fill="rgb(0,26,0)"/><path d="M150.0,520.0 L205.0,540.0 L205.0,577.0 L280.0,680.0 L255.0,700.0 L215.0,640.0 L175.0,570.0Z" fill="rgb(0,255,0)"/><path d="M200.0,740.0 L290.0,730.0 L300.0,820.0 L250.0,790.0Z" fill="rgb(0,204,0)"/><path d="M240.0,680.0 L290.0,690.0 L360.0,723.0 L358.0,806.0 L290.0,812.0 L280.0,740.0Z" fill="rgb(0,140,0)"/><path d="M205.0,465.0 L378.0,465.0 L378.0,682.0 L360.0,722.0 L205.0,577.0Z" fill="rgb(0,204,0)"/><path d="M378.0,465.0 L465.0,465.0 L465.0,505.0 L523.0,505.0 L523.0,650.0 L378.0,650.0Z" fill="rgb(0,224,0)"/><path d="M523.0,504.0 L650.0,504.0 L655.0,600.0 L640.0,650.0 L523.0,650.0Z" fill="rgb(0,230,0)"/><path d="M358.0,650.0 L523.0,650.0 L523.0,860.0 L460.0,860.0 L355.0,815.0 L362.0,720.0 L378.0,682.0Z" fill="rgb(0,153,0)"/><path d="M523.0,650.0 L640.0,650.0 L640.0,760.0 L620.0,840.0 L523.0,860.0Z" fill="rgb(0,199,0)"/><path d="M1360.0,480.0 L1500.0,470.0 L1510.0,500.0 L1440.0,560.0 L1380.0,620.0 L1330.0,680.0 L1260.0,740.0 L1230.0,730.0 L1290.0,660.0 L1340.0,590.0 L1380.0,520.0Z" fill="rgb(0,217,0)"/><path d="M1555.0,357.0 L1640.0,340.0 L1645.0,440.0 L1630.0,490.0 L1555.0,495.0Z" fill="rgb(0,204,0)"/><path d="M1505.0,372.0 L1558.0,365.0 L1560.0,480.0 L1520.0,485.0 L1500.0,440.0Z" fill="rgb(0,158,0)"/></g>
<g style="mix-blend-mode:lighten"><path d="M1316.0,892.0 L1328.0,892.0 L1333.0,940.0 L1321.0,946.0 L1314.0,920.0Z" fill="rgb(0,0,217)"/><path d="M1296.0,930.0 L1312.0,928.0 L1316.0,958.0 L1300.0,962.0Z" fill="rgb(0,0,178)"/><path d="M1396.0,418.0 L1420.0,416.0 L1440.0,420.0 L1460.0,417.0 L1478.0,408.0 L1478.0,424.0 L1460.0,436.0 L1440.0,443.0 L1420.0,443.0 L1400.0,437.0Z" fill="rgb(0,0,242)"/><path d="M1476.0,410.0 L1488.0,390.0 L1503.0,372.0 L1516.0,360.0 L1524.0,370.0 L1508.0,392.0 L1492.0,412.0Z" fill="rgb(0,0,217)"/><path d="M976.0,353.0 L988.0,353.0 L990.0,365.0 L978.0,367.0Z" fill="rgb(0,0,255)"/><path d="M1082.0,300.0 L1098.0,300.0 L1100.0,312.0 L1085.0,313.0Z" fill="rgb(0,0,230)"/><path d="M1124.0,296.0 L1138.0,296.0 L1140.0,310.0 L1126.0,310.0Z" fill="rgb(0,0,230)"/><path d="M1462.0,556.0 L1490.0,552.0 L1512.0,560.0 L1515.0,590.0 L1500.0,598.0 L1475.0,595.0 L1462.0,580.0Z" fill="rgb(0,0,230)"/><path d="M1512.0,492.0 L1535.0,490.0 L1543.0,505.0 L1538.0,522.0 L1522.0,526.0 L1512.0,510.0Z" fill="rgb(0,0,217)"/><path d="M476.0,652.0 L490.0,652.0 L505.0,672.0 L520.0,700.0 L517.0,712.0 L500.0,705.0 L486.0,680.0Z" fill="rgb(0,0,242)"/><path d="M172.0,296.0 L220.0,292.0 L260.0,300.0 L292.0,305.0 L292.0,318.0 L260.0,320.0 L230.0,323.0 L200.0,320.0 L175.0,312.0Z" fill="rgb(0,0,230)"/><path d="M250.0,259.0 L264.0,259.0 L264.0,270.0 L250.0,270.0Z" fill="rgb(0,0,255)"/><path d="M291.0,386.0 L312.0,392.0 L338.0,412.0 L362.0,432.0 L368.0,448.0 L350.0,452.0 L322.0,434.0 L296.0,414.0Z" fill="rgb(0,0,255)"/><path d="M400.0,380.0 L425.0,377.0 L446.0,390.0 L444.0,415.0 L425.0,424.0 L405.0,418.0 L398.0,400.0Z" fill="rgb(0,0,255)"/><path d="M409.0,212.0 L434.0,212.0 L434.0,240.0 L430.0,267.0 L418.0,267.0 L410.0,240.0Z" fill="rgb(0,0,230)"/><path d="M556.0,390.0 L580.0,385.0 L598.0,410.0 L596.0,446.0 L578.0,446.0 L560.0,420.0Z" fill="rgb(0,0,217)"/><path d="M495.0,436.0 L530.0,430.0 L556.0,450.0 L550.0,476.0 L520.0,476.0 L498.0,460.0Z" fill="rgb(0,0,178)"/><path d="M310.0,778.0 L330.0,776.0 L342.0,790.0 L338.0,806.0 L316.0,806.0Z" fill="rgb(0,0,217)"/><path d="M574.0,752.0 L600.0,750.0 L607.0,780.0 L585.0,787.0 L574.0,770.0Z" fill="rgb(0,0,230)"/><path d="M531.0,655.0 L598.0,650.0 L600.0,672.0 L535.0,678.0Z" fill="rgb(0,0,204)"/><path d="M808.0,1040.0 L821.0,1000.0 L835.0,969.0 L853.0,942.0 L884.0,924.0 L920.0,911.0 L960.0,900.0 L1005.0,886.0 L1050.0,882.0 L1072.0,888.0" fill="none" stroke="rgb(0,0,255)" stroke-width="24" stroke-linecap="round" stroke-linejoin="round"/><path d="M1080.0,883.0 L1110.0,879.0 L1140.0,877.0 L1175.0,875.0 L1210.0,871.0 L1240.0,865.0 L1270.0,859.0 L1300.0,855.0 L1320.0,850.0" fill="none" stroke="rgb(0,0,255)" stroke-width="28" stroke-linecap="round" stroke-linejoin="round"/></g>
</g><g fill="none" stroke-linecap="round" stroke-linejoin="round"><path d="M1330.0,845.0 L1334.0,833.0 L1341.0,822.0 L1355.0,812.0 L1370.0,803.0 L1384.0,795.0 L1391.0,783.0 L1403.0,770.0 L1412.0,763.0" stroke="#7EAD72" stroke-width="11.399999999999999"/><path d="M1330.0,845.0 L1334.0,833.0 L1341.0,822.0 L1355.0,812.0 L1370.0,803.0 L1384.0,795.0 L1391.0,783.0 L1403.0,770.0 L1412.0,763.0" stroke="#E6EE1A" stroke-width="9.0"/><path d="M1330.0,845.0 L1334.0,833.0 L1341.0,822.0 L1355.0,812.0 L1370.0,803.0 L1384.0,795.0 L1391.0,783.0 L1403.0,770.0 L1412.0,763.0" stroke="#EEAA00" stroke-width="6.300000000000001"/><path d="M1330.0,845.0 L1334.0,833.0 L1341.0,822.0 L1355.0,812.0 L1370.0,803.0 L1384.0,795.0 L1391.0,783.0 L1403.0,770.0 L1412.0,763.0" stroke="#CC0000" stroke-width="3.5999999999999996"/><path d="M1331.0,862.0 L1333.0,900.0 L1341.0,930.0 L1351.0,960.0 L1359.0,990.0 L1364.0,1020.0 L1363.0,1050.0 L1356.0,1072.0" stroke="#7EAD72" stroke-width="9.5"/><path d="M1331.0,862.0 L1333.0,900.0 L1341.0,930.0 L1351.0,960.0 L1359.0,990.0 L1364.0,1020.0 L1363.0,1050.0 L1356.0,1072.0" stroke="#E6EE1A" stroke-width="7.5"/><path d="M1331.0,862.0 L1333.0,900.0 L1341.0,930.0 L1351.0,960.0 L1359.0,990.0 L1364.0,1020.0 L1363.0,1050.0 L1356.0,1072.0" stroke="#EEAA00" stroke-width="5.25"/><path d="M1331.0,862.0 L1333.0,900.0 L1341.0,930.0 L1351.0,960.0 L1359.0,990.0 L1364.0,1020.0 L1363.0,1050.0 L1356.0,1072.0" stroke="#CC0000" stroke-width="3.0"/><path d="M1274.0,926.0 L1286.0,941.0 L1291.0,970.0 L1296.0,1000.0 L1309.0,1025.0 L1319.0,1050.0 L1336.0,1072.0" stroke="#7EAD72" stroke-width="7.6"/><path d="M1274.0,926.0 L1286.0,941.0 L1291.0,970.0 L1296.0,1000.0 L1309.0,1025.0 L1319.0,1050.0 L1336.0,1072.0" stroke="#E6EE1A" stroke-width="6.0"/><path d="M1274.0,926.0 L1286.0,941.0 L1291.0,970.0 L1296.0,1000.0 L1309.0,1025.0 L1319.0,1050.0 L1336.0,1072.0" stroke="#EEAA00" stroke-width="4.2"/><path d="M1274.0,926.0 L1286.0,941.0 L1291.0,970.0 L1296.0,1000.0 L1309.0,1025.0 L1319.0,1050.0 L1336.0,1072.0" stroke="#CC0000" stroke-width="2.4"/><path d="M1642.0,410.0 L1662.0,400.0 L1690.0,386.0 L1720.0,376.0 L1740.0,369.0" stroke="#7EAD72" stroke-width="11.399999999999999"/><path d="M1642.0,410.0 L1662.0,400.0 L1690.0,386.0 L1720.0,376.0 L1740.0,369.0" stroke="#E6EE1A" stroke-width="9.0"/><path d="M1642.0,410.0 L1662.0,400.0 L1690.0,386.0 L1720.0,376.0 L1740.0,369.0" stroke="#EEAA00" stroke-width="6.300000000000001"/><path d="M1642.0,410.0 L1662.0,400.0 L1690.0,386.0 L1720.0,376.0 L1740.0,369.0" stroke="#CC0000" stroke-width="3.5999999999999996"/></g></g>
<path d="M1645.0,420.0 L1654.6,420.0 L1663.5,410.2 L1678.0,402.8 L1693.0,397.0 L1707.8,392.5 L1722.6,383.6 L1737.4,373.3 L1744.8,367.3 L1746.3,364.4 L1737.4,370.3 L1722.6,374.7 L1707.8,377.7 L1696.0,382.1 L1690.1,380.6 L1685.6,391.0 L1675.3,395.4 L1663.5,401.3 L1654.8,405.8 L1647.7,413.0Z" fill="#1B75CE"/>
<ellipse cx="1111" cy="249" rx="12" ry="3.5" transform="rotate(-28 1111 249)" fill="#1B75CE"/>
<g fill="none" stroke="#333333" stroke-width="3.2" stroke-linejoin="round" stroke-linecap="round">
<path d="M65.8,233.3 L74.4,235.5 L87.3,240.9 L98.0,241.9 L110.9,243.0 L115.0,244.0 L118.0,236.0 L113.0,226.0 L114.0,221.0 L122.0,217.0 L122.5,212.6 L926.2,212.6 L926.2,198.5 L938.0,198.5 L942.2,220.1 L966.7,229.5 L981.7,224.8 L1000.6,227.6 L1010.0,236.1 L1019.4,237.0 L1028.8,243.6 L1049.5,239.9 L1057.0,244.6 L1075.9,244.6 L1092.8,248.3 L1075.9,254.0 L1047.6,269.0 L1028.8,282.2 L1010.0,297.3 L1019.4,295.4 L1035.0,291.0 L1049.5,287.9 L1055.0,286.0 L1053.3,299.2 L1066.4,298.2 L1085.3,289.8 L1109.7,278.5 L1132.3,269.0 L1143.6,269.0 L1132.0,275.0 L1124.0,284.0 L1125.0,290.0 L1132.4,289.2 L1146.8,293.3 L1157.1,301.5 L1175.7,303.6 L1192.2,297.4 L1212.8,294.3 L1223.1,294.3 L1223.1,303.6 L1243.7,304.6 L1247.8,311.9 L1254.0,322.2 L1231.3,326.3 L1208.7,320.1 L1188.0,322.2 L1185.1,322.4 L1178.9,326.9 L1173.5,335.0 L1169.9,329.6 L1164.5,326.0 L1160.9,330.5 L1155.6,340.3 L1150.2,350.2 L1146.6,355.6 L1141.2,359.1 L1135.8,367.2 L1134.1,374.4 L1138.5,370.8 L1144.8,364.5 L1150.2,360.9 L1155.6,353.8 L1162.7,347.5 L1164.5,350.2 L1160.9,357.3 L1155.6,366.3 L1151.1,373.5 L1149.3,380.6 L1151.1,386.9 L1145.7,390.5 L1143.9,400.0 L1142.7,415.0 L1140.6,429.4 L1141.9,441.3 L1140.3,460.6 L1146.8,470.3 L1153.2,480.0 L1161.3,480.0 L1174.2,473.5 L1182.3,460.6 L1187.1,444.5 L1185.5,428.4 L1180.6,412.3 L1179.0,396.1 L1186.0,373.7 L1192.2,357.2 L1206.6,351.0 L1221.0,342.8 L1227.2,328.4 L1243.7,334.5 L1250.0,338.5 L1264.3,344.8 L1267.0,345.3 L1272.6,357.2 L1272.1,370.9 L1270.4,384.5 L1263.6,387.9 L1253.4,396.4 L1256.8,404.9 L1260.2,408.3 L1272.1,394.7 L1284.0,391.3 L1292.6,398.1 L1294.3,415.1 L1296.0,432.1 L1290.9,442.4 L1284.0,449.2 L1277.2,457.7 L1275.5,466.2 L1268.7,474.7 L1280.6,483.2 L1290.9,488.3 L1306.2,484.9 L1318.1,483.2 L1330.0,474.7 L1341.9,469.6 L1352.1,467.9 L1362.4,462.8 L1376.0,456.0 L1386.2,449.2 L1396.4,440.7 L1398.1,432.1 L1396.4,420.2 L1403.2,418.5 L1420.2,417.7 L1435.6,420.2 L1440.7,422.8 L1454.3,420.2 L1471.3,413.4 L1478.1,408.3 L1476.4,394.7 L1474.7,389.6 L1488.3,379.4 L1496.9,370.9 L1508.8,360.6 L1518.0,357.4 L1615.8,357.4 L1616.9,348.8 L1628.7,346.7 L1638.4,337.0 L1648.7,328.9 L1651.6,317.1 L1654.6,308.2 L1660.5,293.4 L1682.7,268.3 L1687.1,269.8 L1690.1,277.2 L1707.8,271.3 L1724.1,283.1 L1724.1,330.4 L1734.4,336.3 L1734.4,349.6 L1744.8,355.5 L1746.3,364.4 L1737.4,370.3 L1722.6,374.7 L1707.8,377.7 L1696.0,382.1 L1690.1,380.6 L1685.6,391.0 L1675.3,395.4 L1663.5,401.3 L1654.8,405.8 L1647.7,413.0 L1641.9,420.2 L1639.1,427.3 L1636.2,436.0 L1637.6,443.1 L1633.3,450.3 L1637.6,458.9 L1644.8,467.5 L1652.0,466.0 L1656.3,463.2 L1662.0,467.5 L1662.0,476.1 L1657.7,477.5 L1650.5,476.1 L1643.4,479.0 L1637.6,481.8 L1629.0,484.7 L1619.0,487.6 L1609.0,491.9 L1609.0,496.2 L1607.5,500.5 L1588.9,507.6 L1571.7,513.4 L1559.9,518.9 L1545.9,520.5 L1544.9,526.4 L1543.0,537.7 L1539.2,549.0 L1531.7,560.3 L1524.2,571.6 L1516.6,579.1 L1511.0,582.9 L1514.8,586.7 L1512.9,601.7 L1505.4,613.0 L1499.7,624.3 L1494.1,639.3 L1488.4,645.0 L1486.5,652.5 L1487.5,661.2 L1491.6,675.6 L1497.8,688.0 L1501.9,698.3 L1500.9,710.6 L1493.6,716.8 L1477.2,721.0 L1475.1,729.2 L1464.8,735.4 L1448.3,737.4 L1436.0,747.7 L1427.7,762.2 L1413.3,762.2 L1405.1,768.3 L1392.7,780.7 L1386.5,793.1 L1372.1,801.3 L1357.7,809.5 L1343.3,817.8 L1337.1,830.1 L1330.0,845.0 L1325.5,865.2 L1326.7,880.2 L1329.2,900.3 L1335.5,920.4 L1345.5,945.4 L1350.6,965.5 L1360.6,995.6 L1366.9,1015.7 L1368.1,1033.2 L1365.6,1058.3 L1360.6,1075.9 L1350.6,1080.9 L1338.0,1080.9 L1333.0,1070.9 L1325.5,1058.3 L1315.4,1050.8 L1310.4,1033.2 L1305.4,1018.2 L1295.4,1008.2 L1290.3,995.6 L1295.4,983.1 L1286.6,980.6 L1290.3,965.5 L1290.3,950.5 L1287.8,937.9 L1280.3,932.9 L1270.3,922.9 L1265.3,912.8 L1252.7,902.8 L1240.2,905.3 L1222.6,915.3 L1210.0,912.8 L1200.0,895.3 L1190.0,890.2 L1184.8,888.8 L1169.5,887.2 L1154.3,887.2 L1148.2,881.1 L1139.0,885.7 L1133.0,878.0 L1131.4,891.8 L1123.8,890.3 L1105.5,890.3 L1090.3,894.9 L1078.1,897.9 L1081.1,904.0 L1087.2,908.6 L1091.8,897.9 L1101.0,899.4 L1099.4,907.0 L1088.8,916.2 L1090.3,922.3 L1101.0,930.0 L1105.5,934.5 L1096.4,939.0 L1093.3,933.0 L1084.2,926.9 L1078.1,923.8 L1069.0,934.5 L1061.3,929.9 L1052.2,937.5 L1044.6,933.0 L1038.5,926.9 L1032.4,922.3 L1030.9,913.9 L1021.7,910.9 L1014.1,914.7 L1011.0,921.5 L1001.9,919.2 L986.7,911.6 L965.3,913.1 L950.1,917.7 L939.4,922.3 L939.4,911.6 L931.8,916.2 L933.3,926.9 L924.2,937.5 L910.5,948.2 L900.0,952.0 L887.9,955.0 L876.7,963.3 L865.5,976.8 L856.5,981.3 L861.0,999.2 L858.8,1021.6 L863.2,1044.0 L867.7,1050.7 L856.5,1050.7 L843.1,1048.4 L825.2,1041.7 L811.7,1035.0 L800.5,1010.4 L798.3,992.5 L787.1,981.3 L775.9,965.6 L769.2,949.9 L762.5,934.2 L751.3,923.0 L742.3,912.9 L728.9,911.8 L717.7,909.6 L706.5,916.3 L704.2,927.5 L695.3,940.9 L688.5,942.1 L675.1,934.2 L659.4,925.3 L650.5,911.8 L648.2,898.4 L644.9,887.2 L637.0,878.2 L623.6,869.3 L612.4,855.8 L603.4,846.9 L592.2,839.0 L592.2,831.2 L591.0,840.4 L547.2,840.4 L547.2,856.8 L463.6,856.8 L354.9,814.5 L357.5,806.1 L287.7,813.1 L283.4,801.4 L280.2,788.6 L270.9,779.2 L256.4,768.6 L250.3,769.0 L247.7,759.5 L231.4,756.2 L224.7,749.6 L212.8,744.9 L190.5,743.0 L185.2,738.3 L185.2,726.6 L179.1,709.5 L166.9,698.6 L148.9,675.6 L148.9,664.6 L145.4,651.5 L136.3,646.4 L131.4,631.9 L131.4,620.6 L116.2,613.6 L114.8,602.7 L95.3,579.0 L92.6,560.0 L90.0,545.0 L75.8,524.7 L80.0,503.0 L84.0,490.0 L81.6,467.8 L75.5,453.2 L71.5,437.2 L77.6,418.6 L84.5,396.0 L86.0,371.9 L89.2,340.2 L86.3,311.7 L89.4,296.8 L87.3,289.2 L84.8,286.0 L83.0,280.6 L79.7,269.9 L75.4,260.2 L69.0,251.6 L65.8,243.0Z"/>
<path d="M86.3,312.0 L95.0,313.0 L105.0,316.0 L114.0,318.0 L120.0,322.0 L122.3,334.1 L135.1,338.7 L149.1,333.5 L166.6,334.1 L170.1,336.4 L185.2,331.7 L201.5,328.2 L219.0,324.7 L230.7,321.8 L248.1,321.3 L290.4,321.3"/>
<path d="M290.4,212.6 L290.4,319.5 L293.6,321.3 L304.0,331.7 L305.2,339.9 L300.5,351.5 L294.7,363.2 L287.7,372.5 L284.2,384.2 L291.2,386.5 L290.4,402.0 L290.4,467.8"/>
<path d="M81.6,467.8 L464.2,467.8"/>
<path d="M204.0,467.8 L204.0,577.2 L360.1,723.0"/>
<path d="M360.1,723.0 L361.6,719.0 L358.4,690.0 L360.0,682.0 L372.0,680.0 L377.0,679.6 L377.0,467.8"/>
<path d="M360.1,723.0 L366.5,738.4 L374.5,748.0 L364.8,757.7 L360.0,773.9 L356.8,786.8 L363.2,796.5 L360.0,804.5 L357.5,806.1"/>
<path d="M377.0,650.1 L941.8,650.1"/>
<path d="M464.2,504.2 L725.8,504.2"/>
<path d="M464.2,358.4 L464.2,504.2"/>
<path d="M522.3,504.2 L522.3,856.8"/>
<path d="M464.2,358.4 L667.7,358.4"/>
<path d="M667.7,212.6 L667.7,504.2"/>
<path d="M318.8,212.6 L318.7,250.0 L328.4,261.3 L328.4,269.4 L341.3,277.4 L351.0,290.3 L360.6,296.8 L368.7,298.4 L365.5,312.9 L365.5,324.2 L363.9,335.5 L370.3,340.3 L380.0,333.9 L386.5,345.2 L392.9,358.1 L401.0,366.1 L405.4,370.8 L410.8,380.4 L421.5,376.1 L430.1,374.0 L443.0,375.1 L451.6,372.9 L454.8,366.5 L460.2,370.8 L464.2,374.0"/>
<path d="M667.7,324.1 L885.0,324.1"/>
<path d="M667.7,431.3 L829.0,431.3 L840.0,436.5 L849.7,435.6 L864.2,435.6 L880.3,442.9 L888.4,447.7"/>
<path d="M725.8,504.2 L725.8,650.1"/>
<path d="M725.8,540.7 L921.8,540.7"/>
<path d="M697.1,650.1 L697.1,668.3 L785.4,668.3 L785.4,738.6"/>
<path d="M697.1,668.3 L697.1,832.4 L593.0,832.4"/>
<path d="M785.4,738.6 L795.4,744.8 L803.6,742.7 L811.9,751.0 L828.4,755.1 L838.7,753.0 L846.9,763.3 L855.1,759.2 L865.4,767.5 L875.8,761.3 L886.1,765.4 L892.2,769.5 L902.5,763.3 L914.9,761.3 L925.2,759.2 L935.5,767.5 L947.9,773.6 L958.7,773.6"/>
<path d="M945.9,772.0 L947.3,707.8 L941.8,668.3 L941.8,650.1 L941.8,572.0 L937.0,567.0 L930.0,560.0 L928.7,554.2 L935.2,547.7 L928.7,542.9 L921.8,540.7"/>
<path d="M958.7,773.6 L958.7,832.4 L965.3,840.0 L971.4,855.2 L974.5,862.9 L971.4,870.5 L966.9,885.7 L969.9,897.9 L963.8,913.1"/>
<path d="M958.7,795.2 L1043.1,795.2"/>
<path d="M941.8,668.3 L1073.2,667.4 L1074.9,674.3 L1068.0,680.0 L1066.4,686.2 L1086.8,686.2"/>
<path d="M1010.0,297.3 L1010.0,318.0 L995.0,329.3 L993.0,336.8 L998.7,350.0 L996.8,367.0 L1004.3,372.6 L1019.4,382.0 L1030.7,393.3 L1038.7,399.4 L1041.9,412.3 L1043.5,433.2 L1056.5,446.1 L1064.5,454.2 L1071.0,463.9 L1069.4,475.2 L1056.5,484.8 L1046.8,491.3 L1048.4,502.6 L1043.5,513.9 L1035.5,520.3 L1033.9,533.2 L1035.5,544.5 L1037.4,550.0 L1052.8,563.6 L1057.9,580.6 L1066.4,578.9 L1073.2,584.0 L1066.4,601.1 L1080.0,614.7 L1090.2,623.2 L1091.9,638.5 L1098.7,647.0 L1103.8,652.1 L1100.4,660.6 L1090.2,669.1 L1086.8,677.7 L1086.8,689.6 L1080.0,698.1 L1073.2,708.3 L1074.9,718.5 L1070.3,722.2 L1061.7,731.5 L1060.3,742.9 L1050.2,751.5 L1045.9,760.2 L1043.1,770.2 L1044.5,784.5 L1043.1,794.6 L1045.9,806.0 L1048.8,820.4 L1043.1,826.1 L1038.8,834.7 L1034.5,846.2 L1031.6,857.7 L1030.2,867.7 L1084.6,867.7 L1083.0,880.0 L1085.7,890.3"/>
<path d="M867.0,212.6 L868.8,239.0 L878.2,269.0 L880.0,299.2 L886.7,319.9 L878.2,335.0 L889.5,344.3 L889.5,413.1"/>
<path d="M885.2,413.1 L1041.9,412.8"/>
<path d="M889.5,413.1 L888.4,421.9 L886.8,431.6 L885.2,441.3 L888.4,447.7 L891.6,455.8 L898.1,473.5 L901.3,483.2 L906.1,492.9 L904.5,512.3 L911.0,520.3 L915.8,528.4 L920.6,538.1 L921.8,540.7"/>
<path d="M909.4,517.6 L1028.7,517.6 L1035.5,522.0"/>
<path d="M1060.0,449.6 L1140.3,449.6"/>
<path d="M1147.9,477.5 L1147.9,564.4 L1146.4,570.4 L1149.8,584.0 L1139.6,601.1 L1132.8,614.7 L1133.3,620.9"/>
<path d="M1175.8,476.5 L1227.0,476.5 L1268.7,475.5"/>
<path d="M1227.0,476.5 L1227.0,572.9"/>
<path d="M1103.8,652.1 L1102.1,648.7 L1107.2,641.9 L1120.9,645.3 L1122.6,631.7 L1132.8,624.9 L1136.2,614.7 L1148.1,614.7 L1160.0,619.8 L1161.4,621.4 L1171.4,614.3 L1175.7,618.6 L1184.3,605.7 L1192.9,612.9 L1198.6,604.3 L1207.1,595.7 L1210.0,587.1 L1220.0,580.0 L1227.0,573.0 L1238.6,572.9 L1247.1,582.9 L1260.0,588.6 L1271.4,588.6 L1282.9,585.7 L1290.0,595.7 L1294.3,597.1 L1302.9,591.4 L1305.7,577.1 L1312.9,578.6 L1315.7,568.6 L1324.3,561.4 L1334.3,560.0 L1342.9,552.9 L1347.1,540.0 L1350.0,528.0 L1351.7,517.4"/>
<path d="M1351.7,467.9 L1351.7,550.9"/>
<path d="M1351.7,550.9 L1492.0,550.9"/>
<path d="M1088.0,668.3 L1134.5,667.7 L1134.5,662.3 L1267.1,662.9 L1318.4,663.7 L1485.4,666.4"/>
<path d="M1070.3,722.6 L1274.8,722.6"/>
<path d="M1132.0,722.6 L1127.7,763.0 L1124.8,806.0 L1123.4,849.1 L1123.4,880.0 L1123.8,890.3"/>
<path d="M1205.5,722.6 L1211.9,762.9 L1218.4,795.2 L1223.2,819.4 L1221.0,835.0 L1219.0,850.0 L1221.5,868.8 L1222.6,877.7"/>
<path d="M1148.2,887.0 L1151.2,881.1 L1145.9,868.8 L1221.5,868.8"/>
<path d="M1222.6,877.7 L1305.4,882.7 L1307.9,890.2 L1310.4,877.7 L1325.5,880.2"/>
<path d="M1274.8,722.6 L1270.0,732.3 L1279.7,740.3 L1286.1,750.0 L1291.0,759.7 L1302.3,769.4 L1310.3,777.4 L1316.8,787.1 L1323.2,793.5 L1328.1,804.8 L1332.9,816.1 L1336.1,827.4 L1337.1,830.1"/>
<path d="M1274.8,722.6 L1297.4,716.1 L1338.4,716.1 L1342.6,725.8 L1345.8,729.0 L1378.1,729.0 L1409.2,762.2"/>
<path d="M1318.4,663.7 L1318.4,672.6 L1305.5,682.3 L1291.0,685.5 L1278.1,695.2 L1260.3,701.6 L1249.0,709.7 L1242.6,714.5 L1242.6,722.6"/>
<path d="M1267.1,662.9 L1281.4,654.3 L1292.9,644.3 L1304.3,637.1 L1310.0,631.4 L1300.0,620.0 L1292.9,607.1 L1294.3,597.1"/>
<path d="M1310.0,631.4 L1318.6,640.0 L1328.6,637.1 L1342.9,635.7 L1357.1,631.4 L1361.4,624.3 L1367.1,614.3 L1372.9,604.3 L1378.6,594.3 L1381.4,595.7 L1387.1,597.1 L1392.9,587.1 L1398.6,582.9 L1407.1,575.7 L1414.3,564.3 L1417.1,560.0 L1425.7,565.7 L1432.9,571.4 L1435.7,568.6 L1432.9,557.1 L1421.4,554.3 L1407.1,555.7 L1395.7,561.4 L1384.3,568.6 L1384.3,550.9"/>
<path d="M1435.7,568.6 L1444.3,572.9 L1450.0,575.7 L1455.2,578.9 L1447.7,590.2 L1447.7,600.2 L1460.0,608.0 L1474.0,614.0"/>
<path d="M1492.0,550.9 L1494.0,594.2 L1513.0,594.2"/>
<path d="M1485.0,612.5 L1506.0,612.5"/>
<path d="M1374.0,458.0 L1374.0,467.8 L1501.7,467.8 L1510.0,478.0 L1521.1,491.1"/>
<path d="M1521.1,491.1 L1512.0,498.0 L1508.0,505.3 L1506.3,515.5 L1519.1,532.6 L1507.7,542.5 L1500.4,548.0 L1492.0,550.9"/>
<path d="M1521.1,491.1 L1545.0,503.0"/>
<path d="M1561.5,357.4 L1561.0,368.2 L1563.1,387.5 L1559.9,400.0 L1560.2,408.7 L1564.5,440.3 L1558.8,464.6 L1555.9,494.7 L1550.2,500.5"/>
<path d="M1619.1,348.8 L1619.1,349.6 L1613.2,370.3 L1601.4,385.1 L1589.6,420.0 L1586.0,436.0 L1585.0,440.3"/>
<path d="M1564.5,440.3 L1623.3,440.3 L1636.2,434.5"/>
<path d="M1629.5,347.0 L1631.0,420.0 L1633.3,421.6 L1637.6,428.8"/>
<path d="M1558.8,464.6 L1619.0,464.6 L1619.0,475.0 L1628.0,484.5"/>
<path d="M1609.0,464.6 L1609.0,491.9"/>
<path d="M1063.9,301.2 L1072.0,304.8 L1094.7,312.3 L1111.6,320.6 L1129.6,323.3 L1134.1,328.7 L1139.4,332.3 L1138.5,341.2 L1143.0,346.6 L1146.6,355.6"/>
<path d="M1540.5,515.3 L1560.5,507.8 L1583.1,500.2 L1600.7,499.0 L1607.0,500.0" stroke-width="3.2"/>
<path d="M1545.0,508.0 L1550.5,502.7 L1570.6,492.7 L1595.7,485.2 L1610.7,482.7" stroke-width="3.2"/>
<path d="M1533.0,505.0 L1540.0,512.0 L1545.0,520.0 L1538.0,523.0 L1533.0,517.0" stroke-width="4.5"/>
<path d="M1515.4,580.5 L1505.0,565.0 L1497.0,552.0 L1495.0,548.0" stroke-width="3.2"/>
<path d="M1494.0,552.0 L1498.0,565.0 L1505.0,575.0 L1512.0,584.0" stroke-width="3.2"/>
<path d="M1482.7,555.4 L1475.2,565.5 L1470.2,575.5 L1467.7,590.6 L1470.2,603.1 L1472.7,615.7 L1470.2,630.7 L1475.2,645.8 L1485.2,650.8" stroke-width="4.0"/>
<path d="M1487.8,560.5 L1482.7,575.5 L1485.2,590.6 L1490.3,603.1 L1492.8,615.7 L1487.8,630.7 L1485.2,645.8" stroke-width="4.0"/>
<path d="M1455.1,615.7 L1462.0,618.0 L1470.2,620.7" stroke-width="3.5"/>
<path d="M1455.1,635.7 L1463.0,638.0 L1472.7,640.8" stroke-width="3.5"/>
<path d="M1458.0,646.0 L1466.0,646.0 L1475.0,648.0" stroke-width="3.5"/>
<path d="M1474.0,570.0 L1466.0,566.0" stroke-width="3.0"/>
<path d="M1468.0,585.0 L1460.0,584.0" stroke-width="3.0"/>
<path d="M1462.6,674.2 L1464.2,686.3 L1472.3,687.9 L1481.9,683.9 L1485.2,687.1" stroke-width="3.8"/>
<path d="M1485.2,687.9 L1481.9,694.4 L1482.7,698.4 L1488.4,700.0 L1492.4,695.2 L1491.6,688.7" stroke-width="3.5"/>
<path d="M1456.1,704.8 L1464.2,704.8 L1470.6,702.4 L1476.3,708.1 L1481.9,709.7 L1488.4,704.8 L1492.4,700.0" stroke-width="3.8"/>
<path d="M1454.5,717.7 L1464.2,722.6 L1473.9,724.2 L1474.7,727.4 L1468.2,731.5 L1456.1,733.9 L1444.8,733.9 L1443.2,738.7" stroke-width="4.2"/>
<path d="M1486.8,652.4 L1490.0,666.1 L1493.2,678.2 L1496.5,686.3 L1499.7,693.5" stroke-width="3.2"/>
<path d="M1064.4,897.9 L1067.4,891.8 L1075.0,890.3 L1078.1,897.9 L1072.0,902.0 L1064.4,897.9" stroke-width="3.2"/>
<path d="M1133.0,878.0 L1139.0,885.7 L1141.0,892.0" stroke-width="3.2"/>
<path d="M131.4,620.6 L134.0,614.0 L133.0,608.0 L140.0,612.0 L142.0,625.0 L148.0,635.0 L145.0,640.0 L137.0,628.0 L131.4,624.0" stroke-width="3.5"/>
<path d="M858.0,1048.0 L856.0,1020.0 L858.0,999.0 L863.0,985.0 L870.0,975.0" stroke-width="3.0"/>
<path d="M876.0,963.0 L886.0,953.0 L897.0,946.0 L905.0,942.0" stroke-width="3.0"/>
<path d="M1652.0,489.0 L1660.0,487.0 L1662.0,492.0 L1655.0,494.0Z" fill="#1B75CE"/>
<path d="M1664.0,492.0 L1670.0,491.0 L1671.0,495.0 L1665.0,496.0Z" fill="#1B75CE"/>
</g>
<path d="M112.0,223.0 L118.0,219.0 L124.0,220.0 L128.0,226.0 L131.0,232.0 L134.0,238.0 L140.0,245.0 L139.0,252.0 L134.0,258.0 L136.0,266.0 L134.0,275.0 L128.0,283.0 L119.0,285.0 L113.0,280.0 L114.0,272.0 L119.0,264.0 L125.0,257.0 L127.0,250.0 L122.0,247.0 L118.0,244.0 L121.0,238.0 L124.0,232.0 L118.0,229.0 L112.0,228.0Z" fill="#333333" stroke="#333333" stroke-width="3" stroke-linejoin="round"/>
<g font-family="Liberation Sans, sans-serif" fill="#000" text-anchor="middle">
<text x="909.7" y="68.4" font-size="36.35" font-weight="bold">Galerucella calmariensis: Pupae relative pop. size 12/26/2022</text>
<text x="909.8" y="120.8" font-size="29.85">Maps and modeling 10/20/2022 by Oregon State University IPPC USPEST.ORG and</text>
<text x="909.8" y="156.5" font-size="29.85">USDA-APHIS-PPQ; climate data from OSU PRISM Climate Group</text>
</g>
<g font-family="Liberation Sans, sans-serif" fill="#000">
<text x="1796.9" y="473.8" font-size="28.67" font-weight="bold">Relative pop. size</text>
<rect x="1797" y="492" width="36" height="36" fill="#1B75CE"/>
<text x="1847.2" y="518.6" font-size="23.8">0-10</text>
<rect x="1797" y="528" width="36" height="36" fill="#4A909C"/>
<text x="1847.2" y="554.6" font-size="23.8">10-20</text>
<rect x="1797" y="564" width="36" height="36" fill="#7EAD72"/>
<text x="1847.2" y="590.6" font-size="23.8">20-30</text>
<rect x="1797" y="600" width="36" height="36" fill="#B1CD48"/>
<text x="1847.2" y="626.6" font-size="23.8">30-40</text>
<rect x="1797" y="636" width="36" height="36" fill="#E6EE1A"/>
<text x="1847.2" y="662.6" font-size="23.8">40-50</text>
<rect x="1797" y="672" width="36" height="36" fill="#F8E100"/>
<text x="1847.2" y="698.6" font-size="23.8">50-60</text>
<rect x="1797" y="708" width="36" height="36" fill="#EEAA00"/>
<text x="1847.2" y="734.6" font-size="23.8">60-70</text>
<rect x="1797" y="744" width="36" height="36" fill="#E27200"/>
<text x="1847.2" y="770.6" font-size="23.8">70-80</text>
<rect x="1797" y="780" width="36" height="36" fill="#D83A00"/>
<text x="1847.2" y="806.6" font-size="23.8">80-90</text>
<rect x="1797" y="816" width="36" height="36" fill="#CC0000"/>
<text x="1847.2" y="842.6" font-size="23.8">90-100</text>
</g>
</svg></body></html>
